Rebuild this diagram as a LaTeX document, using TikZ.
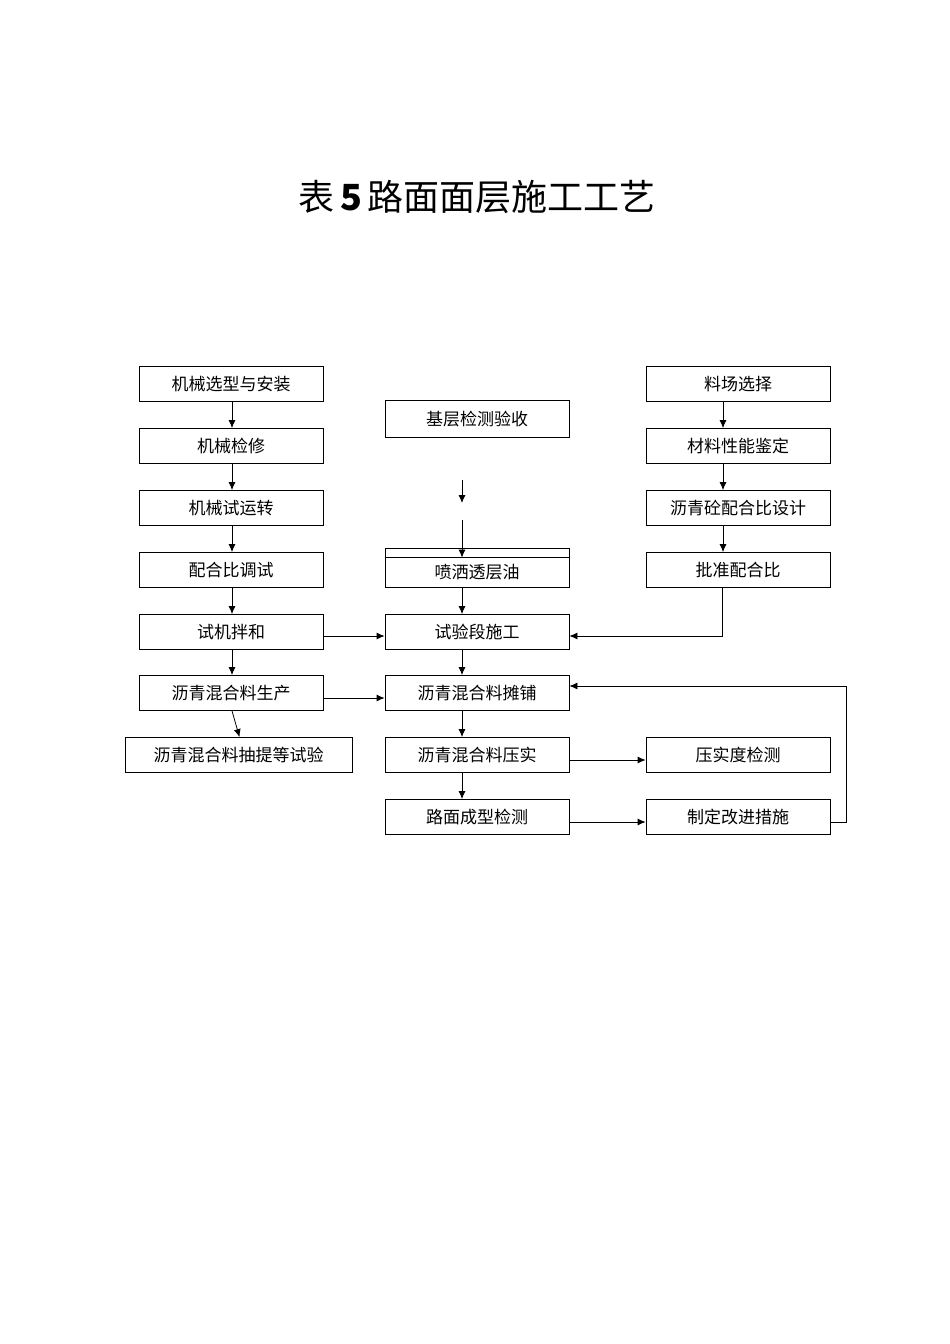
\documentclass[tikz,border=0pt]{standalone}
\usepackage{fontspec}
\setmainfont{Noto Sans CJK SC}
\usetikzlibrary{arrows.meta}
\begin{document}
\begin{tikzpicture}[x=1pt,y=-1pt,
  bx/.style={draw,thick,minimum width=184pt,minimum height=35pt,inner sep=0pt,font=\fontsize{17}{20}\selectfont},
  ar/.style={-{Latex[length=8pt,width=7pt]},thick}]
\useasboundingbox (0,0) rectangle (950,1344);
\node[font=\fontsize{36}{40}\selectfont] (title) at (477,197) {表\,\textbf{5}\,路面面层施工工艺};
% left
\node[bx] (l1) at (231,384) {机械选型与安装};
\node[bx] (l2) at (231,446) {机械检修};
\node[bx] (l3) at (231,508) {机械试运转};
\node[bx] (l4) at (231,570) {配合比调试};
\node[bx] (l5) at (231,632) {试机拌和};
\node[bx] (l6) at (231,693) {沥青混合料生产};
\node[bx,minimum width=227pt] (l7) at (238.5,755) {沥青混合料抽提等试验};
% center
\node[bx,minimum height=37pt] (c1) at (477,419) {基层检测验收};
\coordinate (a1) at (462,480);
\coordinate (a2) at (462,503);
\coordinate (a3) at (462,520);
\node[bx,minimum height=39pt] (c2) at (477,567.5) {};
\node[font=\fontsize{17}{20}\selectfont] (c2t) at (477,572) {喷洒透层油};
\draw[thick] ([yshift=-10pt]c2.north west) -- ([yshift=-10pt]c2.north east);
\node[bx] (c3) at (477,632) {试验段施工};
\node[bx] (c4) at (477,693) {沥青混合料摊铺};
\node[bx] (c5) at (477,755) {沥青混合料压实};
\node[bx] (c6) at (477,817) {路面成型检测};
% right
\node[bx] (r1) at (738,384) {料场选择};
\node[bx] (r2) at (738,446) {材料性能鉴定};
\node[bx] (r3) at (738,508) {沥青砼配合比设计};
\node[bx] (r4) at (738,570) {批准配合比};
\node[bx] (r5) at (738,755) {压实度检测};
\node[bx] (r6) at (738,817) {制定改进措施};
\coordinate (k1) at (722,636);
\coordinate (k2) at (846,822);
\coordinate (k3) at (846,686);
% arrows
\foreach \a/\b in {l1/l2,l2/l3,l3/l4,l4/l5,l5/l6,l6/l7}
  \draw[ar] ([xshift=1pt]\a.south) -- ([xshift=1pt]\b.north);
\foreach \a/\b in {r1/r2,r2/r3,r3/r4}
  \draw[ar] ([xshift=-15pt]\a.south) -- ([xshift=-15pt]\b.north);
\foreach \a/\b in {c2/c3,c3/c4,c4/c5,c5/c6}
  \draw[ar] ([xshift=-15pt]\a.south) -- ([xshift=-15pt]\b.north);
\draw[ar] (a1) -- (a2);
\draw[ar] (a3) -- ([xshift=-15pt,yshift=-10pt]c2.north);
\draw[ar] ([yshift=-4pt]l5.east) -- ([yshift=-4pt]c3.west);
\draw[ar] ([yshift=-5pt]l6.east) -- ([yshift=-5pt]c4.west);
\draw[ar] ([yshift=-5pt]c5.east) -- ([yshift=-5pt]r5.west);
\draw[ar] ([yshift=-5pt]c6.east) -- ([yshift=-5pt]r6.west);
\draw[ar] (r4.south -| k1) -- (k1) -- (k1 -| c3.east);
\draw[ar] (k2 -| r6.east) -- (k2) -- (k3) -- (k3 -| c4.east);
\end{tikzpicture}
\end{document}
